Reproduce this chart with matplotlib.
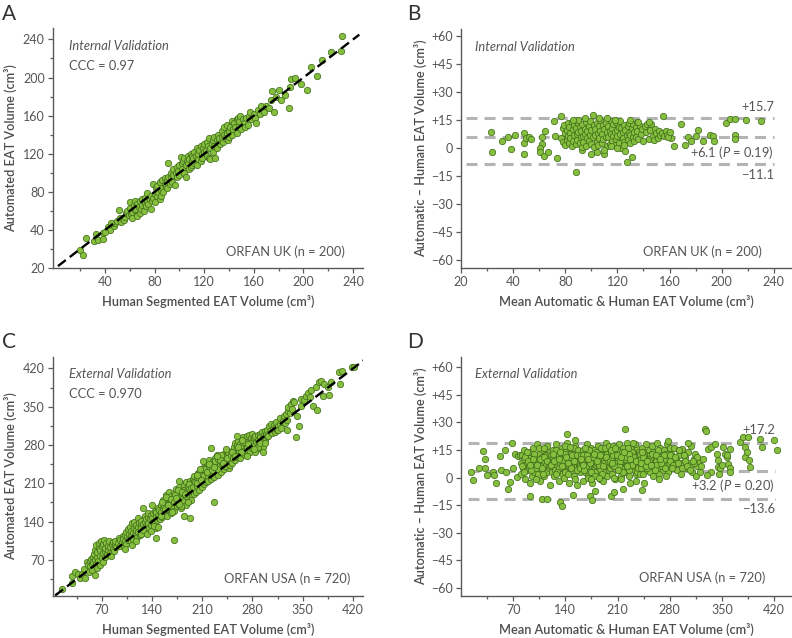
import matplotlib
matplotlib.use("Agg")
import matplotlib.pyplot as plt
from matplotlib.ticker import FixedLocator

plt.rcParams['font.family'] = ['Lato', 'DejaVu Sans']
plt.rcParams['mathtext.fontset'] = 'custom'
plt.rcParams['mathtext.rm'] = 'Lato'
plt.rcParams['mathtext.it'] = 'Lato:italic'

# ---- panel A: ORFAN UK, human vs automated (cm3)
uk_human = [
    20, 22, 25, 31, 33, 34, 38, 38, 42, 44,
    47, 48, 50, 51, 52, 53, 54, 55, 45, 40,
    56, 57, 58, 59, 60, 60, 61, 62, 62, 63,
    64, 64, 65, 66, 66, 67, 68, 68, 69, 70,
    70, 71, 72, 72, 73, 74, 74, 75, 76, 77,
    77, 78, 79, 79, 80,
    80, 81, 82, 82, 83, 84, 84, 85, 85, 86,
    86, 87, 88, 88, 89, 90, 90, 91, 91, 92,
    93, 93, 94, 95, 95, 96, 97, 98, 98, 99,
    100, 100, 101, 102, 102, 103, 104, 104, 105, 105,
    106, 107, 107, 108, 108, 109, 109, 110, 110, 110,
    111, 112, 112, 113, 114, 114, 115, 115, 116, 117,
    117, 118, 118, 119, 120, 120, 121, 122, 122, 123,
    124, 124, 125, 125, 126, 127, 127, 128, 128, 129,
    130, 130, 131, 132, 132, 133, 134, 134, 135, 136,
    136, 137, 138, 138, 139, 140, 140, 141, 142, 142,
    143, 144, 145, 146, 146, 147, 148, 148, 149, 150,
    151, 152, 153, 154, 155, 156, 157, 158, 160, 161,
    162, 163, 165, 166, 168, 170, 172, 174, 175, 176,
    178, 180, 182, 185, 188, 189, 190, 193, 198, 203,
    206, 211, 215, 222, 230, 231,
]
uk_auto = [
    19, 14, 32, 28, 36, 29, 37, 30, 43, 40,
    44, 47, 49, 61, 52, 48, 52, 50, 47, 38,
    54, 58, 60, 56, 69, 63, 57, 59, 53, 66,
    70, 61, 62, 55, 67, 64, 58, 70, 62, 66,
    72, 60, 68, 74, 65, 79, 70, 67, 72, 62,
    76, 70, 88, 74, 69,
    78, 84, 76, 86, 80, 72, 90, 82, 76, 92,
    84, 80, 88, 95, 86, 92, 84, 110, 96, 88,
    100, 94, 90, 98, 104, 87, 100, 96, 106, 102,
    98, 108, 117, 104, 110, 112, 100, 116, 108, 96,
    112, 110, 118, 104, 114, 106, 120, 112, 108, 118,
    116, 110, 122, 118, 108, 126, 114, 120, 124, 112,
    128, 120, 116, 126, 122, 130, 124, 118, 132, 128,
    116, 136, 126, 114, 130, 134, 122, 128, 138, 116,
    134, 126, 140, 132, 136, 130, 144, 138, 132, 140,
    148, 136, 142, 150, 134, 144, 138, 148, 154, 140,
    146, 152, 148, 156, 142, 158, 150, 154, 160, 146,
    156, 152, 148, 158, 150, 160, 164, 156, 162, 158,
    152, 166, 162, 170, 164, 170, 168, 176, 186, 164,
    180, 187, 176, 182, 168, 190, 198, 199, 193, 187,
    211, 202, 218, 227, 228, 244,
]

# ---- panel B: ORFAN UK Bland-Altman (mean, difference)
uk_mean = [
    23, 24, 31.7, 36.3, 38.6, 41.4, 48.5, 48.5, 48.5, 50,
    52, 54, 61.8, 61.8, 61, 61, 64.6, 64, 67, 71.5,
    72, 73.8, 76.6, 88.6, 92.7, 155, 161.4, 163.5, 169, 171.6,
    174, 176.8, 180.6, 181.9, 185.7, 190.8, 193.4, 193.9, 203.6, 206.6,
    210, 210, 210, 218.4, 230,
    77, 78, 78, 79, 80, 80, 81, 81, 82, 82,
    83, 83, 84, 84, 85, 85, 86, 86, 87, 87,
    88, 88, 89, 89, 90, 90, 91, 91, 92, 92,
    93, 93, 94, 94, 95, 95, 96, 96, 97, 97,
    98, 98, 99, 99, 100, 100, 101, 101, 102, 102,
    103, 103, 104, 104, 105, 105, 106, 106, 107, 107,
    108, 108, 109, 109, 110, 110, 111, 111, 112, 112,
    113, 113, 114, 114, 115, 115, 116, 116, 117, 117,
    118, 118, 119, 119, 120, 120, 121, 121, 122, 122,
    123, 123, 124, 124, 125, 125, 126, 126, 127, 127,
    128, 128, 129, 129, 130, 130, 131, 131, 132, 132,
    133, 133, 134, 134, 135, 135, 136, 137, 138, 139,
    140, 141, 142, 143, 144, 145, 146, 147, 148, 149,
    150, 151, 152, 153, 154, 156, 157, 158, 159, 160,
    100, 104, 110, 115, 120, 125, 90, 95, 130, 112,
    86, 106, 118, 136, 144,
]
uk_diff = [
    8.4, -2, 3.8, 5.7, -0.4, 7, 7.9, 2.5, -3.2, 5.5,
    6, 5, 5.7, 2.1, 0.2, -2, 9.3, -4.3, -2, 14.3,
    6.4, -5.4, 17.1, -12.7, -1, 17, 5.5, 1.2, 12.9, 1.8,
    6, 3.8, 6.4, 9.6, 3.9, 7, 6.4, 3.8, 13.2, 15.7,
    15.7, 7, 4.6, 15, 14.3,
    5.5, 10.5, 3.2, 12.1, 7.8, 1.6, 9.4, 4.3, 13.2, 6.6,
    11.3, 2.8, 8.1, 5.2, 14.1, 0.9, 9.9, 3.7, 12.4, 6.8,
    1.9, 10.8, 7.2, 4.1, 13.6, 8.6, 2.4, 11.1, 5.9, 9.3,
    0.6, 12.8, 6.3, 3.2, 10.2, 7.7, 1.2, 13.9, 5.1, 8.9,
    11.8, 3.9, 7.1, 14.4, 2.2, 9.6, 17.5, 5.6, 12.2, 0.4,
    6.9, 10.4, 3.1, 13.1, 8.2, 1.4, 11.6, 5.3, 9.1, 14.8,
    2.7, 7.4, 12.5, 4.6, 10.1, -3.3, 6.1, 13.4, 8.8, 1.1,
    11.9, 5.8, 9.2, 2.3, 14.2, 7.3, 3.6, 10.7, 6.4, 12.6,
    1.8, 8.5, 13.8, 4.9, 9.8, 6.2, 2.9, 11.4, 7.6, 14.6,
    0.1, 10.9, 5.4, 8.3, 12.3, 3.4, -1.6, 9.5, -7.3, 6.7,
    11.7, 4.4, 8.0, 13.3, 2.6, 7.0, -4.6, 10.6, 5.7, 12.9,
    8.7, 3.5, 11.0, 6.0, 13.7, 9.0, 4.8, 12.0, 7.5, 10.3,
    3.9, 11.5, 8.4, 13.0, 5.0, 9.7, 12.7, 6.5, 4.2, 10.0,
    7.9, 5.2, 9.0, 6.8, 8.1, 6.2, 9.1, 7.0, 5.9, 8.3,
    -3.5, -2.1, -1.2, 0.8, -0.2, 1.5, 15.2, 16.1, 15.0, 15.8,
    15.1, 16.3, 14.9, 13.8, 14.0,
]

# ---- panel C: ORFAN USA, human vs automated (cm3)
usa_human = [
    15, 28, 29, 32, 37, 40, 42, 45, 47, 49,
    51, 52, 53, 54, 55, 56, 57, 58, 58, 59,
    60, 60, 61, 62, 62, 63, 64, 64, 65, 66,
    66, 67, 68, 68, 69, 70, 70, 71, 72, 72,
    73, 74, 74, 75, 76, 77, 78, 79, 80, 81,
    82, 83, 84, 85, 86, 87, 88, 89, 90, 92,
    94, 95, 96, 98, 99,
    100, 101, 102, 103, 104, 104, 105, 106, 107, 108,
    109, 110, 110, 111, 112, 113, 114, 115, 115, 116,
    117, 118, 119, 120, 120, 121, 122, 123, 124, 125,
    125, 126, 127, 128, 129, 130, 130, 131, 132, 133,
    134, 135, 135, 136, 137, 138, 139, 140, 140, 141,
    142, 143, 144, 145, 145, 146, 147, 148, 149, 150,
    103, 112, 118, 124, 128, 133, 138, 143, 146, 148,
    150, 151, 152, 153, 154, 155, 155, 156, 157, 158,
    159, 160, 160, 161, 162, 163, 164, 165, 165, 166,
    167, 168, 169, 170, 170, 171, 172, 173, 174, 175,
    175, 176, 177, 178, 179, 180, 180, 181, 182, 183,
    184, 185, 185, 186, 187, 188, 189, 190, 190, 191,
    192, 193, 194, 195, 195, 196, 197, 198, 199, 200,
    152, 156, 160, 164, 168, 172, 176, 180, 184, 188,
    192, 196, 154, 158, 162, 166, 170, 174, 178, 182,
    186, 190, 194, 198, 170, 177, 185, 193, 197, 199,
    200, 201, 202, 203, 204, 205, 205, 206, 207, 208,
    209, 210, 210, 211, 212, 213, 214, 215, 215, 216,
    217, 218, 219, 220, 220, 221, 222, 223, 224, 225,
    225, 226, 227, 228, 229, 230, 230, 231, 232, 233,
    234, 235, 235, 236, 237, 238, 239, 240, 240, 241,
    242, 243, 244, 245, 245, 246, 247, 248, 249, 250,
    202, 206, 210, 214, 218, 222, 226, 230, 234, 238,
    242, 246, 204, 208, 212, 216, 220, 224, 228, 232,
    236, 240, 244, 248, 203, 211, 219, 227, 235, 243,
    226, 222, 207, 231, 239,
    250, 251, 252, 253, 254, 255, 255, 256, 257, 258,
    259, 260, 260, 261, 262, 263, 264, 265, 265, 266,
    267, 268, 269, 270, 270, 271, 272, 273, 274, 275,
    275, 276, 277, 278, 279, 280, 280, 281, 282, 283,
    284, 285, 286, 287, 288, 289, 290, 291, 292, 293,
    294, 295, 296, 297, 298, 299, 300, 252, 256, 260,
    264, 268, 272, 276, 280, 284, 288, 292, 258, 266,
    274, 282, 290, 295, 298,
    300, 302, 303, 305, 306, 307, 308, 310, 311, 312,
    313, 314, 315, 316, 318, 319, 320, 322, 324, 325,
    326, 328, 328, 330, 330, 332, 334, 335, 336, 338,
    340, 342, 345, 347, 348,
    352, 355, 358, 360, 362, 365, 368, 370, 372, 375,
    378, 379, 385, 386, 390, 400, 402, 405, 418, 421,
]
usa_auto = [
    16, 28, 40, 48, 45, 37, 44, 53, 36, 66,
    60, 47, 68, 58, 72, 63, 52, 76, 66, 81,
    43, 70, 88, 62, 97, 75, 55, 84, 68, 91,
    100, 78, 60, 88, 104, 73, 95, 82, 99, 66,
    106, 86, 75, 92, 101, 80, 88, 96, 104, 83,
    94, 78, 99, 90, 102, 86, 97, 104, 93, 100,
    110, 96, 106, 102, 114,
    108, 96, 115, 104, 121, 99, 112, 127, 106, 118,
    131, 104, 122, 114, 137, 119, 108, 128, 140, 116,
    125, 133, 112, 130, 146, 121, 138, 116, 134, 128,
    142, 120, 164, 136, 126, 140, 150, 132, 145, 122,
    148, 138, 156, 129, 144, 152, 134, 147, 170, 140,
    155, 136, 160, 150, 128, 158, 143, 165, 151, 146,
    90, 98, 105, 118, 125, 117, 123, 132, 110, 130,
    162, 144, 171, 158, 149, 180, 165, 152, 174, 168,
    188, 160, 176, 150, 182, 170, 194, 161, 178, 155,
    186, 172, 165, 193, 180, 160, 185, 176, 199, 168,
    190, 182, 170, 204, 186, 176, 196, 165, 192, 183,
    207, 178, 198, 188, 170, 212, 194, 184, 205, 178,
    199, 215, 188, 180, 207, 196, 218, 190, 203, 210,
    150, 168, 185, 172, 158, 188, 197, 169, 195, 186,
    208, 200, 176, 163, 170, 181, 176, 184, 172, 195,
    190, 176, 201, 214, 106, 214, 150, 146, 203, 224,
    212, 194, 220, 205, 228, 210, 198, 222, 214, 230,
    204, 235, 218, 226, 208, 240, 222, 212, 234, 246,
    224, 214, 238, 228, 252, 236, 218, 244, 230, 226,
    250, 238, 222, 256, 240, 232, 246, 262, 226, 248,
    238, 254, 244, 230, 262, 248, 258, 236, 252, 266,
    246, 260, 240, 256, 270, 250, 238, 264, 252, 258,
    210, 228, 224, 238, 232, 246, 244, 236, 258, 252,
    242, 268, 222, 216, 236, 230, 242, 234, 250, 254,
    262, 248, 256, 244, 226, 250, 246, 240, 252, 272,
    176, 274, 236, 260, 248,
    262, 248, 270, 256, 276, 252, 284, 266, 258, 274,
    280, 262, 288, 270, 256, 282, 274, 290, 266, 278,
    294, 270, 284, 262, 290, 280, 296, 276, 270, 288,
    298, 280, 268, 292, 284, 300, 274, 290, 294, 278,
    296, 286, 272, 298, 290, 282, 300, 294, 286, 304,
    292, 276, 298, 306, 290, 300, 296, 268, 260, 276,
    268, 286, 260, 284, 278, 268, 276, 286, 296, 290,
    282, 272, 284, 267, 283,
    308, 296, 314, 306, 318, 302, 310, 316, 304, 312,
    322, 308, 314, 307, 330, 318, 312, 324, 334, 320,
    336, 307, 325, 342, 350, 338, 355, 346, 360, 359,
    294, 333, 314, 365, 352,
    362, 370, 376, 368, 380, 352, 387, 344, 395, 398,
    369, 392, 386, 372, 396, 414, 391, 416, 422, 423,
]

# ---- panel D: ORFAN USA Bland-Altman (mean, difference)
usa_mean = [
    14, 16.3, 23.9, 29.7, 32, 32, 35.5, 43, 44.5, 47.6,
    52, 53.4, 58.8, 61, 63.3, 65.5, 67.8, 70, 72.2, 74.5,
    77, 79,
    80, 81, 82, 83, 84, 85, 86, 87, 88, 89,
    90, 91, 92, 93, 94, 95, 96, 97, 98, 99,
    100, 101, 102, 103, 104, 105, 106, 107, 108, 109,
    110, 111, 112, 113, 114, 115, 116, 117, 118, 119,
    82, 86, 90, 94, 98, 102, 106, 110, 114, 118,
    84, 88, 92, 96, 100, 104, 108, 112, 116, 120,
    120, 121, 122, 123, 124, 125, 126, 127, 128, 129,
    130, 131, 132, 133, 134, 135, 136, 137, 138, 139,
    140, 141, 142, 143, 144, 145, 146, 147, 148, 149,
    150, 151, 152, 153, 154, 155, 156, 157, 158, 159,
    122, 126, 130, 134, 138, 142, 146, 150, 154, 158,
    124, 128, 132, 136, 140, 144, 148, 152, 156, 160,
    121, 125, 129, 133, 137, 141, 145, 149, 153, 157,
    123, 127, 131, 135, 139, 143, 147, 151, 155, 159,
    160, 161, 162, 163, 164, 165, 166, 167, 168, 169,
    170, 171, 172, 173, 174, 175, 176, 177, 178, 179,
    180, 181, 182, 183, 184, 185, 186, 187, 188, 189,
    190, 191, 192, 193, 194, 195, 196, 197, 198, 199,
    162, 166, 170, 174, 178, 182, 186, 190, 194, 198,
    164, 168, 172, 176, 180, 184, 188, 192, 196, 200,
    161, 165, 169, 173, 177, 181, 185, 189, 193, 197,
    163, 167, 171, 175, 179, 183, 187, 191, 195, 199,
    170, 180, 190, 185, 175,
    200, 201, 202, 203, 204, 205, 206, 207, 208, 209,
    210, 211, 212, 213, 214, 215, 216, 217, 218, 219,
    220, 221, 222, 223, 224, 225, 226, 227, 228, 229,
    230, 231, 232, 233, 234, 235, 236, 237, 238, 239,
    202, 206, 210, 214, 218, 222, 226, 230, 234, 238,
    204, 208, 212, 216, 220, 224, 228, 232, 236, 240,
    201, 205, 209, 213, 217, 221, 225, 229, 233, 237,
    203, 207, 211, 215, 219, 223, 227, 231, 235, 239,
    205, 215, 225, 235, 240,
    240, 241, 242, 243, 244, 245, 246, 247, 248, 249,
    250, 251, 252, 253, 254, 255, 256, 257, 258, 259,
    260, 261, 262, 263, 264, 265, 266, 267, 268, 269,
    270, 271, 272, 273, 274, 275, 276, 277, 278, 279,
    242, 246, 250, 254, 258, 262, 266, 270, 274, 278,
    244, 248, 252, 256, 260, 264, 268, 272, 276, 280,
    243, 249, 255, 261, 267, 273, 279, 245, 265, 275,
    280, 282, 284, 286, 288, 290, 292, 294, 296, 298,
    300, 302, 304, 306, 308, 310, 312, 314, 316, 318,
    281, 285, 289, 293, 297, 301, 305, 309, 313, 317,
    283, 287, 291, 295, 299, 303, 307, 311, 315, 320,
    92.4, 108.9, 115.6, 132.5, 135, 141.6, 150, 173, 175.8, 180,
    201, 205.6, 217.7, 220, 243, 278, 152.6, 111.5, 146, 296,
    293,
    325, 327.4, 328.3, 331.9, 335.4, 340.8, 343, 344.4, 345.3, 347.5,
    352, 354, 356.5, 358.7, 361, 361, 361, 374.4, 378.9, 381,
    381, 383.3, 385.6, 386.5, 388, 401, 403.5, 420.5, 423.6, 336,
    350, 330, 346, 357, 322,
]
usa_diff = [
    3, -1.1, 5.2, 14.3, 10.3, 5.2, 1.3, 3, 1.3, -3.2,
    11.6, 4.3, 14.8, 3, -6, -2.3, 18.8, 4.9, 13, 0.4,
    11.5, 12,
    8, 2, 12, 5, 15, 10, -1, 7, 13, 4,
    11, 6, -3, 14, 9, 1, 16, 7, 3, 12,
    5, 10, 18, 2, 8, 13, -2, 6, 11, 4,
    15, 9, 1, 12, 7, 3, 17, 10, 5, -4,
    6, 11, 9, 4, 13, 7, 10, 2, 12, 8,
    3, 14, 7, 10, -1, 16, 5, 11, 9, 14,
    6, 12, 3, 9, 15, 1, 11, 7, 18, 4,
    10, -2, 13, 8, 5, 16, 2, 11, 7, 14,
    3, 9, 19, 6, 12, -3, 10, 4, 15, 8,
    13, 1, 7, 17, 5, 11, -4, 9, 14, 3,
    8, 4, 12, 10, 0, 7, 13, 6, 9, 12,
    11, 15, 5, 9, 13, 2, 7, 16, 4, 10,
    7, 9, 3, 14, 6, 11, 8, 12, -1, 15,
    13, 2, 10, 6, 17, 8, 5, 9, 12, 7,
    5, 12, 8, -2, 15, 10, 3, 13, 7, 18,
    11, 1, 9, 14, 6, 16, -3, 8, 12, 4,
    14, 7, 10, 2, 17, 5, 11, -1, 9, 13,
    6, 15, 3, 12, 8, 19, 1, 10, 14, 4,
    9, 13, 6, 11, 15, 8, 4, 12, 7, 10,
    12, 6, 15, 9, 3, 10, 16, 8, 13, 5,
    10, 4, 12, 8, 11, 14, 7, 2, 16, 9,
    7, 16, 10, 3, 13, 9, 12, 6, 11, 17,
    0, 1, -2, 0, -1,
    9, 14, 2, 11, 17, 6, 12, -1, 8, 15,
    4, 10, 18, 7, 13, 1, 9, 16, 5, 11,
    14, 3, 8, 19, 10, 6, 15, -3, 12, 7,
    11, 17, 4, 9, 13, 2, 16, 8, 10, 14,
    7, 13, 10, 5, 12, 9, 4, 14, 6, 11,
    12, 8, 6, 14, 10, 16, 7, 11, 3, 9,
    15, 6, 12, 9, 3, 11, 13, 7, 18, 5,
    8, 16, 4, 11, 14, 6, 10, 19, 9, 12,
    0, -1, 1, -2, 2,
    13, 5, 10, 16, 2, 9, 14, 7, 18, 4,
    11, 8, 15, 3, 12, 6, 17, 10, 1, 13,
    7, 14, 9, 19, 5, 11, 2, 16, 8, 12,
    10, 4, 15, 8, 13, 6, 18, 9, 3, 11,
    8, 12, 5, 10, 14, 7, 11, 6, 9, 13,
    11, 6, 9, 13, 4, 15, 8, 12, 7, 16,
    14, 9, 7, 12, 10, 5, 8, -3, -1, 1,
    9, 13, 6, 16, 10, 4, 12, 8, 15, 7,
    11, 5, 14, 8, 17, 3, 10, 13, 6, 9,
    12, 7, 10, 15, 5, 9, 19, 7, 8, 11,
    5, 11, 8, 2, 12, 6, 4, 9, 1, 3,
    -10.2, -11.6, -11.6, -13.5, -15.5, 23.5, -9.3, -10.2, -12.3, -7.5,
    -10, -7.8, -6, 26.5, -6.9, 20, 20.6, 16.1, 16.3, 15.5,
    15.2,
    10.3, 26.5, 25, 15.7, 16.6, 18.4, 13, 9.4, 5.8, 4.9,
    16.6, 13, 11.2, 7.6, 15.7, 4.9, 3, 19.3, 22, 16.6,
    11.2, 13.9, 22, 9.4, 5.8, 21, 16.6, 20.2, 15.2, 3,
    7, 1.5, 2, 12, 6,
]

# reference lines of the Bland-Altman panels (as drawn) and their labels
uk_lines = [15.9, 5.9, -8.8]
uk_line_labels = ['+15.7', '+6.1 ($P$ = 0.19)', '\u221211.1']
usa_lines = [18.8, 3.4, -11.7]
usa_line_labels = ['+17.2', '+3.2 ($P$ = 0.20)', '\u221213.6']

GREEN = '#86bf3e'
EDGE = '#42701c'
GREY_TXT = '#555555'
AX_COL = '#5a5a5a'


def style(ax):
    for s in ['top', 'right']:
        ax.spines[s].set_visible(False)
    for s in ['left', 'bottom']:
        ax.spines[s].set_color(AX_COL)
        ax.spines[s].set_linewidth(1.0)
    ax.tick_params(which='both', direction='out', colors=AX_COL,
                   labelcolor=GREY_TXT, labelsize=9, width=0.9)
    ax.tick_params(which='major', length=3.5, pad=2.5)
    ax.tick_params(which='minor', length=2.5)


def dots(ax, x, y):
    n = min(len(x), len(y))
    ax.scatter(x[:n], y[:n], s=21, c=GREEN, edgecolors=EDGE,
               linewidths=0.55, zorder=3)


fig = plt.figure(figsize=(7.92, 6.38), dpi=100)
W, H = 792, 638
axA = fig.add_axes([53 / W, 1 - 268 / H, 310 / W, 240 / H])
axB = fig.add_axes([461 / W, 1 - 268 / H, 331 / W, 239 / H])
axC = fig.add_axes([53 / W, 1 - 596 / H, 310 / W, 239 / H])
axD = fig.add_axes([461 / W, 1 - 596 / H, 331 / W, 239 / H])

lab = dict(fontsize=9.2, color='#4d4d4d', fontweight='semibold')
cm3 = ' (cm\u00b3)'
note = dict(fontsize=9.3, color=GREY_TXT, va='center')

# --- A
style(axA)
axA.plot([2, 245], [2, 245], color='black', lw=1.7, dashes=(4.2, 2.1), zorder=4)
dots(axA, uk_human, uk_auto)
axA.set_xlim(-2, 248)
axA.set_ylim(0, 252)
axA.set_xticks([40, 80, 120, 160, 200, 240])
axA.xaxis.set_minor_locator(FixedLocator([20, 60, 100, 140, 180, 220]))
axA.set_yticks([0, 40, 80, 120, 160, 200, 240])
axA.set_yticklabels(['20', '40', '80', '120', '160', '200', '240'])
axA.yaxis.set_minor_locator(FixedLocator([20, 60, 100, 140, 180, 220]))
axA.set_xlabel('Human Segmented EAT Volume' + cm3, labelpad=5, **lab)
axA.set_ylabel('Automated EAT Volume' + cm3, labelpad=4, **lab)
axA.text(0.052, 0.925, 'Internal Validation', transform=axA.transAxes,
         style='italic', **note)
axA.text(0.052, 0.842, 'CCC = 0.97', transform=axA.transAxes, **note)
axA.text(0.942, 0.067, 'ORFAN UK (n = 200)', transform=axA.transAxes,
         ha='right', **note)


def bland(ax, m, d, lines, labels, x0, x1, offs):
    style(ax)
    for yv in lines:
        ax.plot([x0, x1], [yv, yv], color='#b4b4b4', lw=2.2,
                dashes=(3.6, 2.3), zorder=2, solid_capstyle='butt')
    dots(ax, m, d)
    for yv, t, o in zip(lines, labels, offs):
        ax.text(x1, yv + o, t, ha='right', zorder=5, **note)
    ax.set_yticks([-60, -45, -30, -15, 0, 15, 30, 45, 60])
    ax.set_yticklabels(['\u221260', '\u221245', '\u221230', '\u221215', '0',
                        '+15', '+30', '+45', '+60'])
    ax.set_xlabel('Mean Automatic & Human EAT Volume' + cm3, labelpad=5, **lab)
    ax.set_ylabel('Automatic \u2013 Human EAT Volume' + cm3, labelpad=3, **lab)


# --- B
bland(axB, uk_mean, uk_diff, uk_lines, uk_line_labels, 4, 240, [6.2, -8.4, -5.7])
axB.set_xlim(0, 254)
axB.set_ylim(-64.3, 63.7)
axB.set_xticks([0, 40, 80, 120, 160, 200, 240])
axB.set_xticklabels(['20', '40', '80', '120', '160', '200', '240'])
axB.xaxis.set_minor_locator(FixedLocator([20, 60, 100, 140, 180, 220]))
axB.text(0.042, 0.925, 'Internal Validation', transform=axB.transAxes,
         style='italic', **note)
axB.text(0.909, 0.067, 'ORFAN UK (n = 200)', transform=axB.transAxes,
         ha='right', **note)

# --- C
style(axC)
axC.plot([5, 440], [5, 440], color='black', lw=1.7, dashes=(4.2, 2.1), zorder=4)
dots(axC, usa_human, usa_auto)
axC.set_xlim(2, 434)
axC.set_ylim(4, 441)
axC.set_xticks([70, 140, 210, 280, 350, 420])
axC.set_yticks([70, 140, 210, 280, 350, 420])
axC.xaxis.set_minor_locator(FixedLocator([35, 105, 175, 245, 315, 385]))
axC.yaxis.set_minor_locator(FixedLocator([35, 105, 175, 245, 315, 385]))
axC.set_xlabel('Human Segmented EAT Volume' + cm3, labelpad=5, **lab)
axC.set_ylabel('Automated EAT Volume' + cm3, labelpad=4, **lab)
axC.text(0.053, 0.929, 'External Validation', transform=axC.transAxes,
         style='italic', **note)
axC.text(0.053, 0.845, 'CCC = 0.970', transform=axC.transAxes, **note)
axC.text(0.96, 0.071, 'ORFAN USA (n = 720)', transform=axC.transAxes,
         ha='right', **note)

# --- D
bland(axD, usa_mean, usa_diff, usa_lines, usa_line_labels, 9, 421, [7.2, -7.9, -5.6])
axD.set_xlim(0, 444)
axD.set_ylim(-64.3, 65.4)
axD.set_xticks([70, 140, 210, 280, 350, 420])
axD.xaxis.set_minor_locator(FixedLocator([35, 105, 175, 245, 315, 385]))
axD.text(0.042, 0.929, 'External Validation', transform=axD.transAxes,
         style='italic', **note)
axD.text(0.92, 0.075, 'ORFAN USA (n = 720)', transform=axD.transAxes,
         ha='right', **note)

# panel letters
for t, x, y in [('A', 2, 4), ('B', 407, 4), ('C', 2, 332), ('D', 407, 332)]:
    fig.text(x / W, 1 - y / H, t, fontsize=15, color='#333333', va='top', ha='left')

fig.savefig('out.png', dpi=100)
